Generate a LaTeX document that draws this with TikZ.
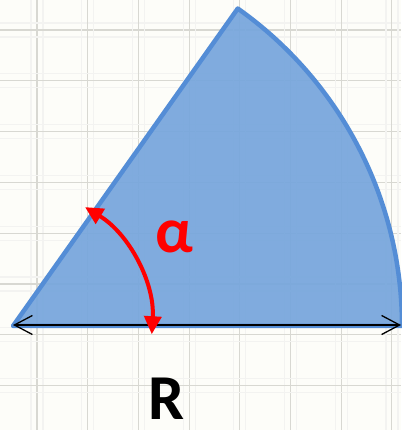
\documentclass[tikz,border=0pt]{standalone}
\usepackage{fontspec}
\setmainfont{Carlito}
\usetikzlibrary{arrows.meta}
\definecolor{paperwhite}{RGB}{253,253,249}
\definecolor{gridgray}{RGB}{216,216,210}
\definecolor{sectorfill}{RGB}{118,165,220}
\definecolor{sectoredge}{RGB}{84,141,214}
\colorlet{anglered}{red}
\colorlet{gridfaint}{gridgray!30}

\begin{document}
\begin{tikzpicture}[
  x=1pt, y=1pt,
  font=\bfseries\fontsize{64}{64}\selectfont,
  every node/.append style={inner sep=0pt},
]
  \fill[paperwhite] (0,0) rectangle (401,430);
  \useasboundingbox (0,0) rectangle (401,430);

  \foreach \k in {0,...,7} {
    \draw[gridfaint, line width=1.2pt] ({31+50.7*\k},0) -- ++(0,430);
    \draw[gridfaint, line width=1.2pt] ({43+50.7*\k},0) -- ++(0,430);
    \draw[gridgray, line width=1.1pt] ({37+50.7*\k},0) -- ++(0,430);
    \draw[gridfaint, line width=1.2pt] (0,{407-50.8*\k}) -- ++(401,0);
    \draw[gridfaint, line width=1.2pt] (0,{393-50.8*\k}) -- ++(401,0);
    \draw[gridgray, line width=1.1pt] (0,{400-50.8*\k}) -- ++(401,0);
  }

  \coordinate (O) at (13,104);
  \coordinate (E) at (401,105);
  \def\rad{389}
  \def\ra{139}

  \fill[sectorfill, fill opacity=0.92]
    (O) -- ++(0:\rad) arc[start angle=0, end angle=54.7, radius=\rad] -- cycle;
  \draw[sectoredge, line width=4.5pt, line join=round]
    (O) -- ++(0:\rad) arc[start angle=0, end angle=54.7, radius=\rad] -- cycle;

  \draw[black, line width=2.2pt,
    {Straight Barb[length=18pt, width=19pt, line width=1.3pt]}-{Straight Barb[length=18pt, width=19pt, line width=1.3pt]}]
    ([yshift=1pt]O) -- (E);

  \draw[anglered, line width=4pt,
    {Triangle[length=18pt, width=17pt]}-{Triangle[length=18pt, width=17pt]}]
    ([shift={(-3.4:\ra)}]O) arc[start angle=-3.4, end angle=58.8, radius=\ra];

  \node[text=anglered] (alpha) at (174,193) {α};
  \node[text=black] (R) at (167,31) {R};
\end{tikzpicture}
\end{document}
